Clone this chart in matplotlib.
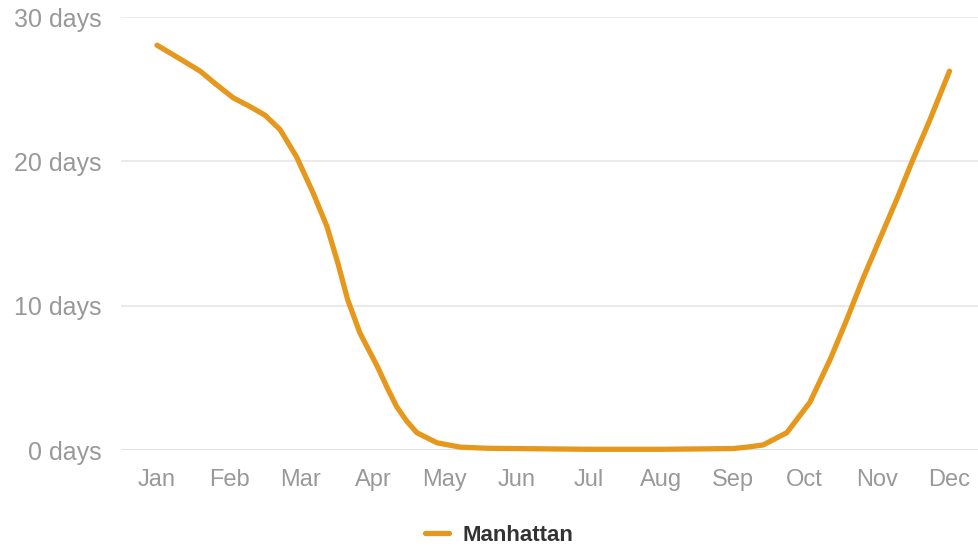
#!/usr/bin/env python

# Days per month below freezing, Manhattan

import matplotlib.pyplot as plt

months = ["Jan", "Feb", "Mar", "Apr", "May", "Jun",
          "Jul", "Aug", "Sep", "Oct", "Nov", "Dec"]

# curve (position in months, 0 = Jan)
month_pos = [0.0, 0.32, 0.60, 0.83, 1.06, 1.29, 1.50, 1.71, 1.94,
             2.17, 2.36, 2.51, 2.65, 2.82, 3.06, 3.20, 3.33, 3.47, 3.61,
             3.89, 4.21, 4.6, 5.0, 6.0, 7.0, 8.0, 8.2, 8.42, 8.75, 9.07,
             9.35, 9.58, 9.81, 10.04, 10.28, 10.5, 10.74, 11.01]
days = [28.05, 27.1, 26.25, 25.3, 24.4, 23.8, 23.2, 22.2, 20.3,
        17.8, 15.5, 13.0, 10.4, 8.1, 5.8, 4.3, 3.0, 2.0, 1.2,
        0.5, 0.2, 0.12, 0.1, 0.05, 0.05, 0.1, 0.2, 0.35, 1.2, 3.3,
        6.25, 9.0, 11.9, 14.6, 17.4, 20.1, 22.9, 26.25]
yticks = [0, 10, 20, 30]

plt.rcParams["font.family"] = ["Liberation Sans", "DejaVu Sans"]

fig = plt.figure(figsize=(9.79, 5.46), dpi=100)
ax = fig.add_axes([0.1236, 0.1758, 0.8764, 0.793])

line, = ax.plot(month_pos, days, color="#E6981C", linewidth=3.8,
                solid_capstyle="round", solid_joinstyle="round",
                clip_on=False, zorder=3, label="Manhattan")

ax.set_xlim(-0.5, 11.42)
ax.set_ylim(0, 30)
ax.set_xticks(range(len(months)))
ax.set_xticklabels(months)
ax.set_yticks(yticks)
ax.set_yticklabels(["%d days" % v for v in yticks])

for v in yticks:
    ax.axhline(v, color="#d9dde3" if v == 0 else "#e6e6e6",
               linewidth=1.2, zorder=1)

for s in ax.spines.values():
    s.set_visible(False)
ax.tick_params(axis="both", length=0, labelsize=17, colors="#999999")
ax.tick_params(axis="y", labelsize=18, pad=14)
ax.tick_params(axis="x", pad=14)

fig.legend(handles=[line], loc="center", bbox_to_anchor=(0.51, 0.02),
           frameon=False, handlelength=1.1, handletextpad=0.6,
           prop={"weight": "bold", "size": 16}, labelcolor="#333333")

fig.savefig("out.png", dpi=100)
